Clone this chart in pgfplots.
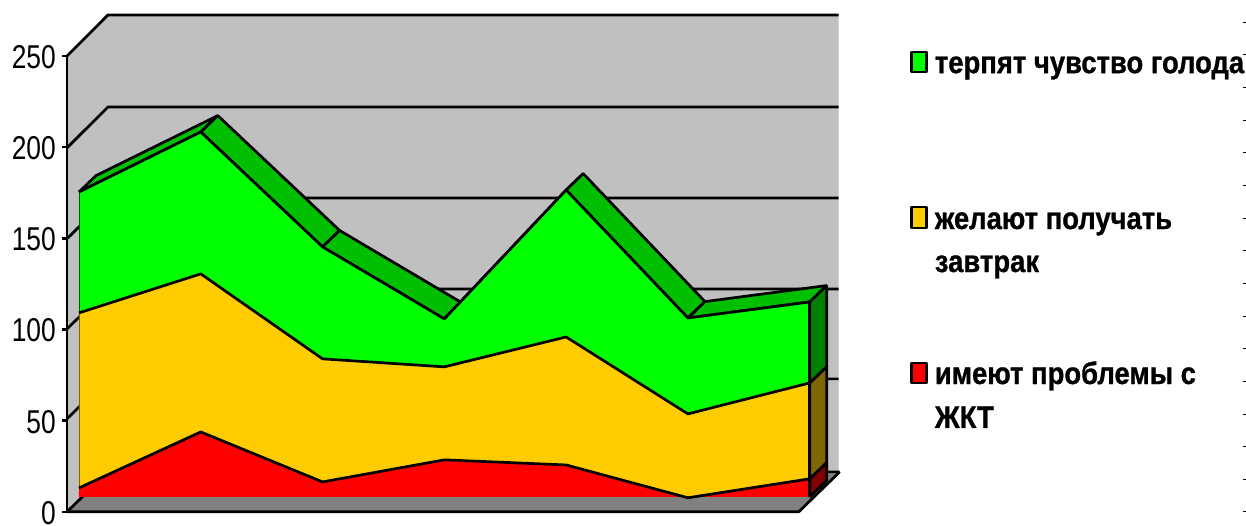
\documentclass[border=0pt]{standalone}
\usepackage{fontspec}
\setmainfont{Liberation Sans}
\newfontfamily\narrow[FakeStretch=0.80]{Liberation Sans}
\newfontfamily\narrowb[FakeStretch=0.885,BoldFont={Liberation Sans Bold},BoldFeatures={FakeStretch=0.885,FakeBold=0.9}]{Liberation Sans}
\usepackage{pgfplots}
\pgfplotsset{compat=1.18}
\definecolor{wall}{HTML}{C0C0C0}
\definecolor{floorc}{HTML}{808080}
\definecolor{gr}{HTML}{00FF00}
\definecolor{grtop}{HTML}{00BF00}
\definecolor{grside}{HTML}{008000}
\definecolor{ye}{HTML}{FFCC00}
\definecolor{yeside}{HTML}{806600}
\definecolor{re}{HTML}{FF0000}
\definecolor{reside}{HTML}{800000}
\begin{document}
\begin{tikzpicture}[x=1pt,y=1pt]
\begin{axis}[
  at={(0pt,0pt)},anchor=south west,
  scale only axis,width=1246pt,height=522pt,
  hide axis,clip=true,
  xmin=-0.6484,xmax=9.579,ymin=-13.7,ymax=272.5,
  every axis plot/.append style={line width=2.7pt,line join=bevel},
]
% page extent
\addplot[draw=none,forget plot] coordinates {(-0.6484,-13.7)(9.579,272.5)};
% walls
\addplot[fill=wall,draw=none] coordinates {(-0.0985,241.8)(0.238,264.3)(6.238,264.3)(6.238,13.7)(0.238,13.7)(-0.0985,-8.2)} -- cycle;
% floor
\addplot[fill=floorc,draw=none] coordinates {(-0.0985,-8.2)(5.91,-8.2)(6.246,13.7)(0.238,13.7)} -- cycle;
% grid lines
\addplot[black] coordinates {(-0.0985,241.8)(0.238,264.3)(6.238,264.3)};
\addplot[black] coordinates {(-0.0985,191.4)(0.238,213.8)(6.238,213.8)};
\addplot[black] coordinates {(-0.0985,141.5)(0.238,163.9)(6.238,163.9)};
\addplot[black] coordinates {(-0.0985,92.1)(0.238,114.0)(6.238,114.0)};
\addplot[black] coordinates {(-0.0985,42.8)(0.238,64.7)(6.238,64.7)};
\addplot[black] coordinates {(-0.0985,-8.2)(0.238,13.7)(6.246,13.7)};
\addplot[black] coordinates {(-0.0985,-8.2)(5.91,-8.2)(6.246,13.7)};
% top strips of the upper series
\addplot[fill=grtop,draw=black] coordinates {(0,167.2)(1,200.1)(1.14,209.1)(0.14,176.2)} -- cycle;
\addplot[fill=grtop,draw=black] coordinates {(1,200.1)(2,137.1)(2.14,146.1)(1.14,209.1)} -- cycle;
\addplot[fill=grtop,draw=black] coordinates {(2,137.1)(3,97.6)(3.14,106.6)(2.14,146.1)} -- cycle;
\addplot[fill=grtop,draw=black] coordinates {(3,97.6)(4,168.3)(4.14,177.3)(3.14,106.6)} -- cycle;
\addplot[fill=grtop,draw=black] coordinates {(4,168.3)(5,98.1)(5.14,107.1)(4.14,177.3)} -- cycle;
\addplot[fill=grtop,draw=black] coordinates {(5,98.1)(6,106.9)(6.14,115.9)(5.14,107.1)} -- cycle;
% side faces at the right end
\addplot[fill=reside,draw=black] coordinates {(6,0)(6,9.9)(6.14,18.9)(6.14,9)} -- cycle;
\addplot[fill=yeside,draw=black] coordinates {(6,9.9)(6,62.5)(6.14,71.5)(6.14,18.9)} -- cycle;
\addplot[fill=grside,draw=black] coordinates {(6,62.5)(6,106.9)(6.14,115.9)(6.14,71.5)} -- cycle;
% front faces (cumulative heights)
\addplot[fill=gr,draw=none] coordinates {(0,100.9)(0,167.2)(1,200.1)(2,137.1)(3,97.6)(4,168.3)(5,98.1)(6,106.9)(6,62.5)(5,45.5)(4,87.7)(3,71.3)(2,75.7)(1,122.3)} -- cycle;
\addplot[fill=ye,draw=none] coordinates {(0,4.9)(0,100.9)(1,122.3)(2,75.7)(3,71.3)(4,87.7)(5,45.5)(6,62.5)(6,9.9)(5,0)(4,17.5)(3,20.3)(2,8.2)(1,35.6)} -- cycle;
\addplot[fill=re,draw=none] coordinates {(0,0)(0,4.9)(1,35.6)(2,8.2)(3,20.3)(4,17.5)(5,0)(6,9.9)(6,0)} -- cycle;
% front outlines
\addplot[grside!70!black,line width=0.8pt] coordinates {(0,100.9)(0,167.2)};
\addplot[yeside,line width=0.8pt] coordinates {(0,4.9)(0,100.9)};
\addplot[black] coordinates {(0,167.2)(1,200.1)(2,137.1)(3,97.6)(4,168.3)(5,98.1)(6,106.9)};
\addplot[black] coordinates {(0,100.9)(1,122.3)(2,75.7)(3,71.3)(4,87.7)(5,45.5)(6,62.5)};
\addplot[black] coordinates {(0,4.9)(1,35.6)(2,8.2)(3,20.3)(4,17.5)(5,-0.5)(6,9.9)};
\addplot[black] coordinates {(6,0)(6,106.9)};
% small marks down the right margin
\addplot[only marks,mark=-,mark size=1.5pt,black,mark options={line width=0.8pt}] coordinates {
(9.57,260.4)(9.57,242.5)(9.57,224.6)(9.57,206.7)(9.57,188.8)(9.57,170.8)(9.57,152.9)(9.57,135.0)(9.57,117.1)(9.57,99.2)(9.57,81.3)(9.57,63.4)(9.57,45.5)(9.57,27.6)(9.57,9.6)(9.57,-8.2)};
% legend
\addplot[fill=gr,draw=black,line width=2.6pt] coordinates {(6.837,244)(6.96,244)(6.96,233)(6.837,233)} -- cycle;
\addplot[fill=ye,draw=black,line width=2.6pt] coordinates {(6.837,159)(6.96,159)(6.96,147.5)(6.837,147.5)} -- cycle;
\addplot[fill=re,draw=black,line width=2.6pt] coordinates {(6.837,73.5)(6.96,73.5)(6.96,62.5)(6.837,62.5)} -- cycle;
\node[anchor=base west,inner sep=0pt,font=\narrowb\bfseries\fontsize{31}{36}\selectfont] at (axis cs:7.026,232.4) {терпят чувство голода};
\node[anchor=base west,inner sep=0pt,font=\narrowb\bfseries\fontsize{31}{36}\selectfont] at (axis cs:7.026,146.9) {желают получать};
\node[anchor=base west,inner sep=0pt,font=\narrowb\bfseries\fontsize{31}{36}\selectfont] at (axis cs:7.026,123.3) {завтрак};
\node[anchor=base west,inner sep=0pt,font=\narrowb\bfseries\fontsize{31}{36}\selectfont] at (axis cs:7.026,61.9) {имеют проблемы с};
\node[anchor=base west,inner sep=0pt,font=\narrowb\bfseries\fontsize{31}{36}\selectfont] at (axis cs:7.026,37.8) {ЖКТ};
\end{axis}
\begin{axis}[
  at={(67pt,10pt)},anchor=south west,
  scale only axis,width=1pt,height=456pt,
  xmin=0,xmax=1,ymin=0,ymax=250,
  axis y line=left,axis x line=none,
  y axis line style={-,line width=2.5pt},
  ytick={0,50,100,150,200,250},
  tick style={black,line width=2.5pt},
  tick align=outside,major tick length=5pt,
  /pgf/number format/assume math mode=true,
  tick label style={font=\narrow\fontsize{33}{36}\selectfont},
  yticklabel style={inner sep=1pt,xshift=-5pt,yshift=-1pt},
]
\addplot[draw=none] coordinates {(0,0)(1,250)};
\end{axis}
\end{tikzpicture}
\end{document}
